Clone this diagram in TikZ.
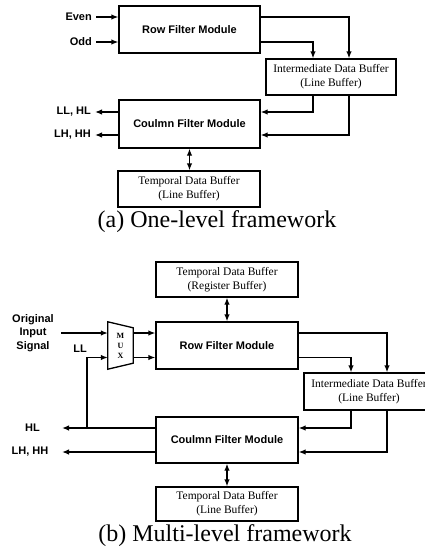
\documentclass[tikz,border=0pt]{standalone}
\usepackage{fontspec}
\setmainfont{Liberation Serif}
\setsansfont{Liberation Sans}
\usepackage{tikz}
\usetikzlibrary{arrows.meta,calc,positioning}

\tikzset{
  modbox/.style={draw,line width=1.3pt,minimum width=141pt,minimum height=47pt,inner sep=0pt,
    font=\sffamily\bfseries\fontsize{11}{13}\selectfont},
  bufbox/.style={draw,line width=1.3pt,minimum width=142pt,minimum height=35pt,inner sep=0pt,
    align=center,font=\fontsize{11.5}{14}\selectfont},
  sig/.style={inner sep=0pt,align=center,font=\sffamily\bfseries\fontsize{11}{13.5}\selectfont},
  capt/.style={inner sep=0pt,font=\fontsize{24}{28}\selectfont},
  wire/.style={line width=1.3pt,->},
  dbl/.style={line width=1.3pt,<->}
}

\begin{document}
\begin{tikzpicture}[x=1pt,y=-1pt,>={Latex[length=7pt,width=5.5pt]}]
  \useasboundingbox (0,0) rectangle (424,554);

  % (a) one level
  \node[modbox] (rowA) at (189.5,29.5) {Row Filter Module};
  \node[bufbox,minimum width=130pt,minimum height=36pt] (midA) at (331,77)
    {Intermediate Data Buffer\\(Line Buffer)};
  \node[modbox,minimum height=48pt] (colA) at (189.5,124) {Coulmn Filter Module};
  \node[bufbox,minimum height=36pt] (tmpA) at (189,189) {Temporal Data Buffer\\(Line Buffer)};
  \node[capt] (capA) at (217,222) {(a) One-level framework};

  \node[sig,anchor=east] (even) at (92,17) {Even};
  \node[sig,anchor=east] (odd) at (92,42) {Odd};
  \node[sig,anchor=east] (llhl) at (91,112) {LL, HL};
  \node[sig,anchor=east] (lhhhA) at (91,135) {LH, HH};

  \draw[wire] ([xshift=4pt]even.east) -- (rowA.west |- even);
  \draw[wire] ([xshift=4pt]odd.east) -- (rowA.west |- odd);
  \draw[wire] (rowA.east |- even) -| ([xshift=18pt]midA.north);
  \draw[wire] (rowA.east |- odd) -| ([xshift=-18pt]midA.north);
  \draw[wire] ([xshift=-18pt]midA.south) |- (colA.east |- llhl);
  \draw[wire] ([xshift=18pt]midA.south) |- (colA.east |- lhhhA);
  \draw[wire] (colA.west |- llhl) -- ([xshift=4pt]llhl.east);
  \draw[wire] (colA.west |- lhhhA) -- ([xshift=4pt]lhhhA.east);
  \draw[dbl] (colA.south) -- (colA.south |- tmpA.north);

  % (b) multi level
  \node[bufbox] (tmpR) at (227,279.5) {Temporal Data Buffer\\(Register Buffer)};
  \node[modbox,minimum width=142pt] (rowB) at (227,345.5) {Row Filter Module};
  \node[bufbox,minimum width=130pt,minimum height=37pt] (midB) at (369,391.5)
    {Intermediate Data Buffer\\(Line Buffer)};
  \node[modbox,minimum width=142pt,minimum height=46pt] (colB) at (227,440) {Coulmn Filter Module};
  \node[bufbox,minimum height=34pt] (tmpL) at (227,504) {Temporal Data Buffer\\(Line Buffer)};
  \node[capt] (capB) at (225,536) {(b) Multi-level framework};

  \node[minimum width=25pt,minimum height=47pt,inner sep=0pt,align=center,
    font=\bfseries\fontsize{8}{10}\selectfont] (mux) at (120.5,345.5) {M\\U\\X};
  \draw[line width=1.3pt] (mux.north west) -- ([yshift=-6pt]mux.north east)
    -- ([yshift=6pt]mux.south east) -- (mux.south west) -- cycle;

  \node[sig] (orig) at (33,333) {Original\\Input\\Signal};
  \node[sig] (ll) at (80,349) {LL};
  \node[sig] (hl) at (32.5,428) {HL};
  \node[sig] (lhhhB) at (30,452) {LH, HH};
  \coordinate (inB) at (61,333);
  \coordinate (hlB) at (62,428);
  \coordinate (lhB) at (62,452);
  \coordinate (tapB) at (87,428);

  \draw[wire] (inB) -- (mux.west |- inB);
  \draw[wire] (tapB) |- ([yshift=-12pt]mux.west);
  \draw[wire] (mux.east |- inB) -- (rowB.west |- inB);
  \draw[wire] ([yshift=-12pt]mux.east) -- ([yshift=-12pt]rowB.west);
  \draw[dbl] (tmpR.south) -- (rowB.north);
  \draw[wire] (rowB.east |- inB) -| ([xshift=18pt]midB.north);
  \draw[wire] ([yshift=-12pt]rowB.east) -| ([xshift=-18pt]midB.north);
  \draw[wire] ([xshift=-18pt]midB.south) |- (colB.east |- hlB);
  \draw[wire] ([xshift=18pt]midB.south) |- (colB.east |- lhB);
  \draw[wire] (colB.west |- hlB) -- (hlB);
  \draw[wire] (colB.west |- lhB) -- (lhB);
  \draw[dbl] (colB.south) -- (tmpL.north);
\end{tikzpicture}
\end{document}
